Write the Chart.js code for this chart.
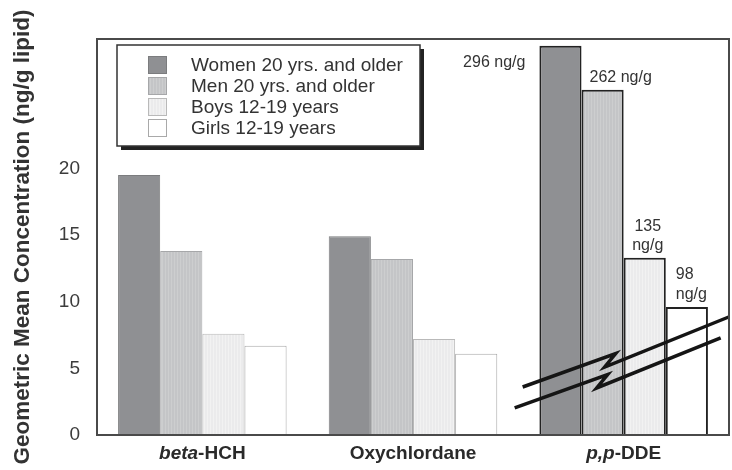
<!DOCTYPE html>
<html>
<head>
<meta charset="utf-8">
<script src="https://cdn.jsdelivr.net/npm/chart.js@4"></script>
<style>
  html, body { margin: 0; padding: 0; background: #fff; }
</style>
</head>
<body>
<canvas id="chart" width="732" height="470"></canvas>
<script>
const categories = ['beta-HCH', 'Oxychlordane', 'p,p-DDE'];
const italicPart = ['beta', '', 'p,p'];
const seriesNames = ['Women 20 yrs. and older', 'Men 20 yrs. and older', 'Boys 12-19 years', 'Girls 12-19 years'];
// bar heights as drawn; the p,p-DDE bars sit on a broken axis
const women = [19.5, 14.9, 29.2];
const men = [13.8, 13.2, 25.9];
const boys = [7.6, 7.2, 13.3];
const girls = [6.7, 6.1, 9.6];
// real p,p-DDE values printed next to the broken bars (ng/g)
const ddeActual = [296, 262, 135, 98];
const yTicks = [0, 5, 10, 15, 20];

const FONT = "'Liberation Sans', Arial, Helvetica, sans-serif";
Chart.defaults.font.family = FONT;

function stripes(base, line, w) {
  const c = document.createElement('canvas');
  c.width = w; c.height = 4;
  const g = c.getContext('2d');
  g.fillStyle = base; g.fillRect(0, 0, w, 4);
  g.fillStyle = line; g.fillRect(0, 0, 1, 4);
  return g.createPattern(c, 'repeat');
}

const fills = [
  '#8f9093',
  stripes('#c4c5c7', '#cdcecf', 3),
  stripes('#ebebec', '#f2f2f2', 3),
  '#ffffff'
];
const softBorders = ['#7b7c7e', '#a6a7a9', '#b9b9b9', '#a9a9a9'];
const seriesData = [women, men, boys, girls];

const datasets = seriesNames.map((name, i) => ({
  label: name,
  data: seriesData[i],
  backgroundColor: fills[i],
  borderColor: [softBorders[i], softBorders[i], '#222'],
  borderWidth: [1, 1, 2],
  categoryPercentage: 0.8,
  barPercentage: 1.0
}));

const decor = {
  id: 'decor',
  afterDatasetsDraw(chart) {
    const { ctx, chartArea: a, scales: { x, y } } = chart;
    ctx.save();

    // break marks across the p,p-DDE bars
    const cx = x.getPixelForValue(2);
    const brk = [[-101, 3.6], [-8, 6.1], [-19, 5.1], [105, 8.85]];
    ctx.strokeStyle = '#151515';
    ctx.lineWidth = 3.5;
    ctx.lineJoin = 'miter';
    [[0, 0], [-8, -1.57]].forEach(([dx, dv]) => {
      ctx.beginPath();
      brk.forEach(([ox, v], k) => {
        const px = cx + ox + dx, py = y.getPixelForValue(v + dv);
        if (k === 0) ctx.moveTo(px, py); else ctx.lineTo(px, py);
      });
      ctx.stroke();
    });

    // plot frame
    ctx.strokeStyle = '#4a4a4a';
    ctx.lineWidth = 2;
    ctx.strokeRect(a.left, a.top, a.right - a.left, a.bottom - a.top);

    // value labels for p,p-DDE
    ctx.fillStyle = '#333';
    ctx.font = '16px ' + FONT;
    ctx.textBaseline = 'middle';
    ddeActual.forEach((v, i) => {
      const bar = chart.getDatasetMeta(i).data[2];
      const left = bar.x - bar.width / 2;
      if (i === 0) {
        ctx.textAlign = 'right';
        ctx.fillText(v + ' ng/g', left - 14, bar.y + 17);
      } else if (i === 1) {
        ctx.textAlign = 'left';
        ctx.fillText(v + ' ng/g', left + 8, bar.y - 12);
      } else if (i === 2) {
        ctx.textAlign = 'center';
        ctx.fillText(String(v), bar.x + 3, bar.y - 31);
        ctx.fillText('ng/g', bar.x + 3, bar.y - 12);
      } else {
        ctx.textAlign = 'left';
        ctx.fillText(String(v), left + 10, bar.y - 32);
        ctx.fillText('ng/g', left + 10, bar.y - 12);
      }
    });

    // category labels (italic prefix)
    ctx.textAlign = 'left';
    ctx.fillStyle = '#2a2a2a';
    categories.forEach((cat, i) => {
      const it = italicPart[i];
      const rest = cat.slice(it.length);
      ctx.font = 'italic bold 19px ' + FONT;
      const w1 = ctx.measureText(it).width;
      ctx.font = 'bold 19px ' + FONT;
      const w2 = ctx.measureText(rest).width;
      let px = x.getPixelForValue(i) - (w1 + w2) / 2;
      const py = a.bottom + 19;
      ctx.font = 'italic bold 19px ' + FONT;
      ctx.fillText(it, px, py);
      ctx.font = 'bold 19px ' + FONT;
      ctx.fillText(rest, px + w1, py);
    });

    // legend box
    const bx = a.left + 20, by = a.top + 6, bw = 303, bh = 101;
    ctx.fillStyle = '#222';
    ctx.fillRect(bx + 4, by + 4, bw, bh);
    ctx.fillStyle = '#fff';
    ctx.fillRect(bx, by, bw, bh);
    ctx.strokeStyle = '#333';
    ctx.lineWidth = 1.5;
    ctx.strokeRect(bx, by, bw, bh);
    ctx.font = '19px ' + FONT;
    ctx.textBaseline = 'middle';
    seriesNames.forEach((name, i) => {
      const ry = by + 11 + i * 21;
      ctx.fillStyle = fills[i];
      ctx.fillRect(bx + 31, ry, 19, 18);
      ctx.strokeStyle = softBorders[i];
      ctx.lineWidth = 1;
      ctx.strokeRect(bx + 31.5, ry + 0.5, 18, 17);
      ctx.fillStyle = '#333';
      ctx.fillText(name, bx + 74, ry + 9.5);
    });

    ctx.restore();
  }
};

new Chart(document.getElementById('chart'), {
  type: 'bar',
  data: { labels: categories, datasets },
  options: {
    responsive: false,
    animation: false,
    layout: { padding: { top: 39, right: 3, left: 0, bottom: 0 } },
    plugins: { legend: { display: false }, tooltip: { enabled: false } },
    scales: {
      x: {
        grid: { display: false, drawTicks: false },
        border: { display: false },
        ticks: { display: false },
        afterFit: s => { s.height = 35; }
      },
      y: {
        min: 0,
        max: 29.7,
        grid: { display: false, drawTicks: false },
        border: { display: false },
        ticks: { padding: 17, color: '#3c3c3c', font: { size: 19 } },
        afterBuildTicks: s => { s.ticks = yTicks.map(v => ({ value: v })); },
        afterFit: s => { s.width = 97; },
        title: {
          display: true,
          text: 'Geometric Mean Concentration (ng/g lipid)',
          color: '#333',
          font: { size: 22.5, weight: 'bold' },
          padding: { top: 9, bottom: 0 }
        }
      }
    }
  },
  plugins: [decor]
});
</script>
</body>
</html>
